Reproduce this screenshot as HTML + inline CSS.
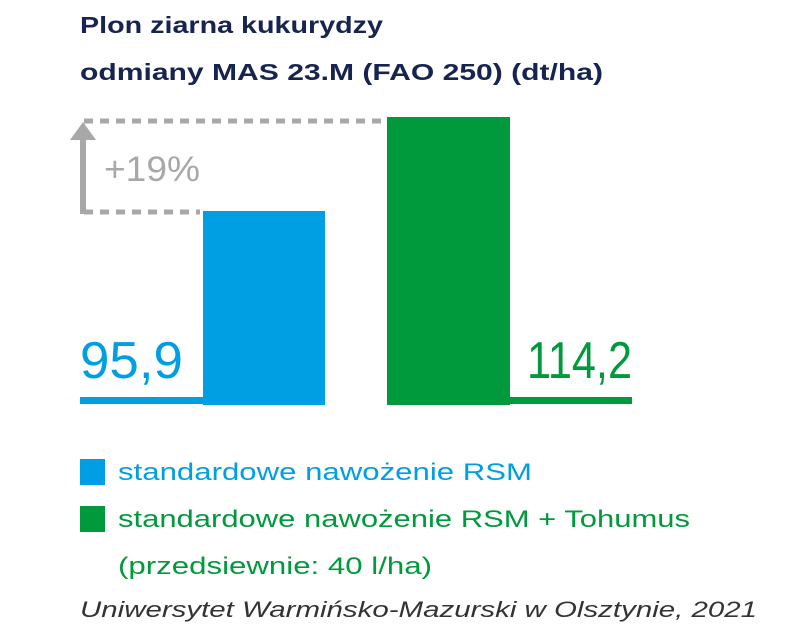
<!DOCTYPE html>
<html><head><meta charset="utf-8"><style>
html,body{margin:0;padding:0;background:#fff;}
svg{display:block;}
</style></head><body>
<svg width="800" height="642" viewBox="0 0 800 642" xmlns="http://www.w3.org/2000/svg" font-family="Liberation Sans, sans-serif">
<text x="80" y="33" font-size="23" font-weight="bold" fill="#16244f" textLength="303" lengthAdjust="spacingAndGlyphs">Plon ziarna kukurydzy</text>
<text x="80" y="80" font-size="23" font-weight="bold" fill="#16244f" textLength="523" lengthAdjust="spacingAndGlyphs">odmiany MAS 23.M (FAO 250) (dt/ha)</text>
<!-- dashed lines -->
<line x1="84" y1="121" x2="385" y2="121" stroke="#a8a8a8" stroke-width="5" stroke-dasharray="9,7"/>
<line x1="84" y1="212" x2="200" y2="212" stroke="#a8a8a8" stroke-width="5" stroke-dasharray="9,7"/>
<line x1="83" y1="214" x2="83" y2="135" stroke="#a8a8a8" stroke-width="6"/>
<polygon points="70,140 83,122 96,140" fill="#a8a8a8"/>
<text x="104" y="181" font-size="35" fill="#a8a8a8" textLength="96" lengthAdjust="spacingAndGlyphs">+19%</text>
<!-- bars -->
<rect x="203" y="211" width="122" height="194" fill="#009fe3"/>
<rect x="80" y="397" width="123" height="7" fill="#009fe3"/>
<rect x="387" y="117" width="123" height="288" fill="#009a3c"/>
<rect x="510" y="397" width="122" height="7" fill="#009a3c"/>
<text x="80" y="378" font-size="52" fill="#009fe3" textLength="103" lengthAdjust="spacingAndGlyphs">95,9</text>
<text x="632" y="378" font-size="52" fill="#009a3c" text-anchor="end" textLength="105" lengthAdjust="spacingAndGlyphs">114,2</text>
<!-- legend -->
<rect x="80" y="459" width="25" height="26" fill="#009fe3"/>
<text x="118" y="480" font-size="24" fill="#009fe3" textLength="414" lengthAdjust="spacingAndGlyphs">standardowe nawożenie RSM</text>
<rect x="80" y="506" width="25" height="26" fill="#009a3c"/>
<text x="118" y="527" font-size="24" fill="#009a3c" textLength="572" lengthAdjust="spacingAndGlyphs">standardowe nawożenie RSM + Tohumus</text>
<text x="118" y="574" font-size="24" fill="#009a3c" textLength="314" lengthAdjust="spacingAndGlyphs">(przedsiewnie: 40 l/ha)</text>
<text x="80" y="617" font-size="22" font-style="italic" fill="#333" textLength="677" lengthAdjust="spacingAndGlyphs">Uniwersytet Warmińsko-Mazurski w Olsztynie, 2021</text>
</svg>
</body></html>
